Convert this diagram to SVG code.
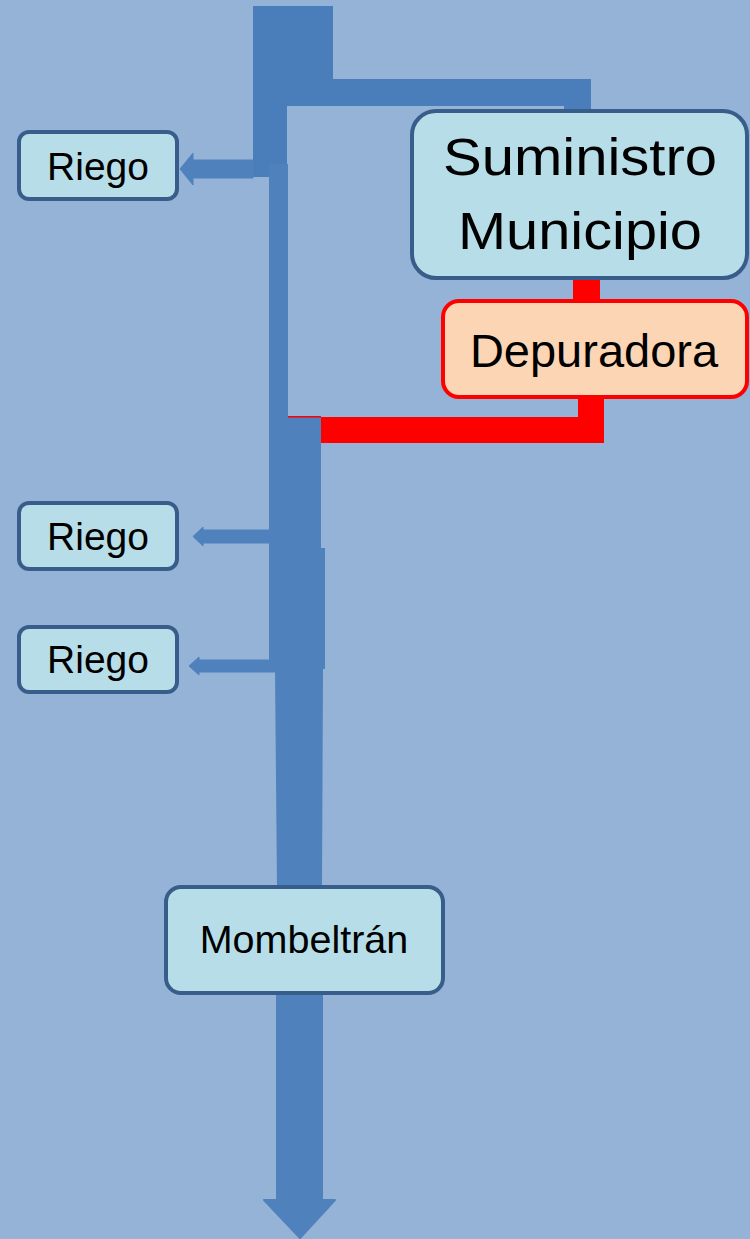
<svg xmlns="http://www.w3.org/2000/svg" width="750" height="1239" viewBox="0 0 750 1239">
<style>
.flow{fill:#4F81BD}
.flow2{fill:#4A7EBB}
.red{fill:#FF0000}
.box{fill:#B7DEE8;stroke:#385D8A;stroke-width:4}
.dep{fill:#FCD5B5;stroke:#FF0000;stroke-width:4}
text{font-family:"Liberation Sans",Arial,sans-serif;fill:#000;text-anchor:middle}
</style>
<rect x="0" y="0" width="750" height="1239" fill="#95B3D7"/>
<g id="connectors">
<path class="flow2" d="M253,6 H333 V79 H591 V112 H564 V106 H287 V177 H253 Z"/>
<path class="flow" d="M253,160 V178 H193 V185 L180,169 L193,153 V160 Z" stroke="#4F81BD" stroke-width="1" stroke-linejoin="round"/>
<path class="flow" d="M269,164 H288 V417 H321 V548 H325 V669 H323 L322,887 H277 L275,669 H269 Z"/>
<path class="flow" d="M272,530 V543 H203 V546 L193,536.5 L203,527 V530 Z" stroke="#4F81BD" stroke-width="1" stroke-linejoin="round"/>
<path class="flow" d="M276,660 V672 H199 V675 L189,666 L199,657 V660 Z" stroke="#4F81BD" stroke-width="1" stroke-linejoin="round"/>
<path class="red" d="M321,417 H578 V396 H604 V443 H321 Z"/>
<rect class="red" x="288" y="416" width="33" height="1.5"/>
<rect class="red" x="573" y="277" width="27" height="24"/>
<path class="flow" d="M277,990 H322 V1200 H335 L300,1238 L264,1200 H277 Z" stroke="#4F81BD" stroke-width="2" stroke-linejoin="round"/>
</g>
<g id="riego1">
<rect class="box" x="19" y="132" width="158" height="67" rx="10"/>
<text x="98" y="180" font-size="39">Riego</text>
</g>
<g id="riego2">
<rect class="box" x="19" y="503" width="158" height="66" rx="10"/>
<text x="98" y="550" font-size="39">Riego</text>
</g>
<g id="riego3">
<rect class="box" x="19" y="627" width="158" height="65" rx="10"/>
<text x="98" y="673" font-size="39">Riego</text>
</g>
<g id="suministro">
<rect class="box" x="412" y="111" width="335" height="167" rx="24"/>
<text x="580" y="175" font-size="51" textLength="274" lengthAdjust="spacingAndGlyphs">Suministro</text>
<text x="580" y="249" font-size="51" textLength="244" lengthAdjust="spacingAndGlyphs">Municipio</text>
</g>
<g id="depuradora">
<rect class="dep" x="443" y="301" width="304" height="96" rx="16"/>
<text x="594" y="367" font-size="47">Depuradora</text>
</g>
<g id="mombeltran">
<rect class="box" x="166" y="887" width="277" height="106" rx="15"/>
<text x="304" y="953" font-size="39.5">Mombeltrán</text>
</g>
</svg>
